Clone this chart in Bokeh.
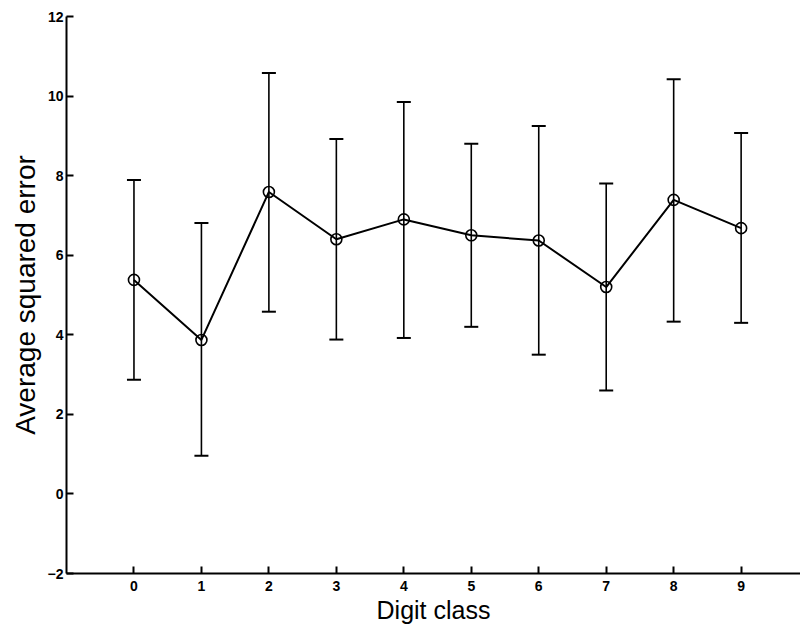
from bokeh.plotting import figure
from bokeh.models import ColumnDataSource, Whisker, TeeHead, FixedTicker, Range1d
from bokeh.embed import file_html
from bokeh.resources import INLINE

digits = [0, 1, 2, 3, 4, 5, 6, 7, 8, 9]
mean_err = [5.38, 3.87, 7.59, 6.40, 6.90, 6.50, 6.37, 5.20, 7.39, 6.68]
upper_err = [7.89, 6.81, 10.58, 8.92, 9.85, 8.80, 9.25, 7.80, 10.42, 9.07]
lower_err = [2.87, 0.96, 4.58, 3.88, 3.92, 4.20, 3.50, 2.60, 4.33, 4.30]
y_ticks = [-2, 0, 2, 4, 6, 8, 10, 12]
x_ticks = digits

src = ColumnDataSource(dict(x=digits, y=mean_err, up=upper_err, lo=lower_err))

p = figure(width=800, height=630, output_backend="svg", toolbar_location=None,
           x_range=Range1d(-1, 9.88), y_range=Range1d(-2, 12),
           min_border_left=66, min_border_right=0, min_border_top=16, min_border_bottom=57)
p.outline_line_color = None
p.xgrid.grid_line_color = None
p.ygrid.grid_line_color = None
p.background_fill_color = "white"
p.border_fill_color = "white"

w = Whisker(source=src, base="x", upper="up", lower="lo",
            line_color="black", line_width=1.6,
            upper_head=TeeHead(size=14, line_color="black", line_width=2),
            lower_head=TeeHead(size=14, line_color="black", line_width=2))
p.add_layout(w)

p.line("x", "y", source=src, line_color="black", line_width=2)
p.scatter("x", "y", source=src, marker="circle", size=11, fill_color=None,
          line_color="black", line_width=1.6)

for ax in (p.xaxis[0], p.yaxis[0]):
    ax.axis_line_width = 2
    ax.axis_line_color = "black"
    ax.major_tick_in = 7
    ax.major_tick_out = 0
    ax.major_tick_line_width = 2
    ax.minor_tick_line_color = None
    ax.major_label_text_font = "Liberation Sans"
    ax.major_label_text_font_style = "bold"
    ax.major_label_text_font_size = "14px"
    ax.major_label_text_color = "black"
    ax.axis_label_text_font = "Liberation Sans"
    ax.axis_label_text_font_style = "normal"
    ax.axis_label_text_color = "black"

p.xaxis.ticker = FixedTicker(ticks=x_ticks)
p.yaxis.ticker = FixedTicker(ticks=y_ticks)
p.xaxis.axis_label = "Digit class"
p.yaxis.axis_label = "Average squared error"
p.xaxis.axis_label_text_font_size = "25px"
p.yaxis.axis_label_text_font_size = "28px"
p.xaxis.major_label_standoff = 7
p.yaxis.major_label_standoff = 3
p.xaxis.axis_label_standoff = 2
p.yaxis.axis_label_standoff = 4

open("out.html", "w").write(file_html(p, INLINE))
